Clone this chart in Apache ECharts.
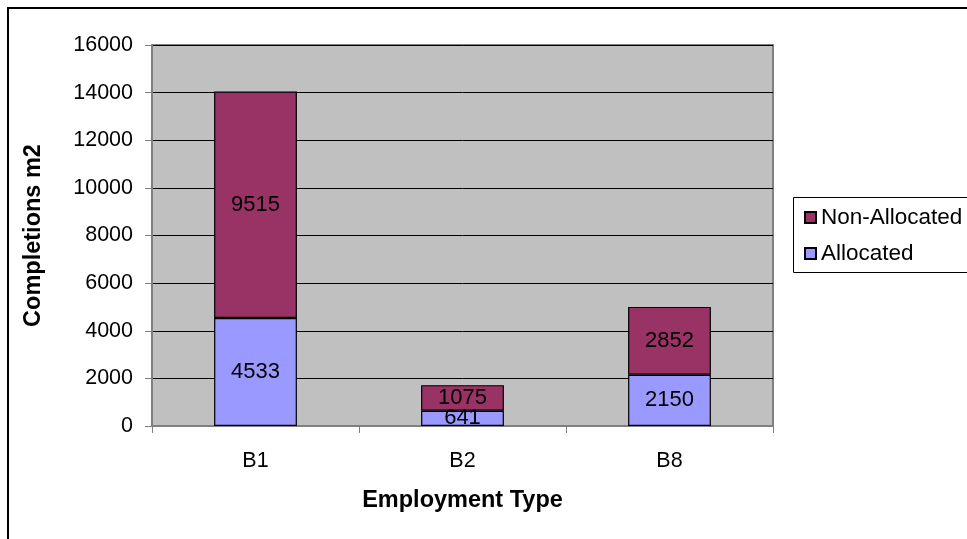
<!DOCTYPE html>
<html><head><meta charset="utf-8">
<script src="https://cdn.jsdelivr.net/npm/echarts@6/dist/echarts.min.js"></script>
<style>html,body{margin:0;padding:0;background:#fff}#c{width:967px;height:539px}</style>
</head><body><div id="c"></div>
<script>
var categories = ['B1', 'B2', 'B8'];
var allocated = [4533, 641, 2150];
var nonAllocated = [9515, 1075, 2852];
var yTicks = [0, 2000, 4000, 6000, 8000, 10000, 12000, 14000, 16000];

var FONT = '"Liberation Sans", Arial, sans-serif';
var chart = echarts.init(document.getElementById('c'), null, {renderer: 'canvas'});
chart.setOption({
  animation: false,
  textStyle: {fontFamily: FONT},
  graphic: [
    {type: 'rect', shape: {x: 8, y: 8, width: 1100, height: 700}, style: {fill: 'none', stroke: '#000', lineWidth: 2}, z: 100},
    {type: 'rect', shape: {x: 793.5, y: 197.5, width: 300, height: 75}, style: {fill: '#fff', stroke: '#000', lineWidth: 1}, z: 0}
  ],
  grid: {left: 152, top: 45, right: 194, bottom: 113, show: true, backgroundColor: '#C0C0C0', borderColor: '#808080', borderWidth: 2},
  legend: {
    data: ['Non-Allocated', 'Allocated'],
    orient: 'vertical', left: 799, top: 201, itemGap: 13,
    itemWidth: 11, itemHeight: 11, icon: 'rect',
    textStyle: {fontSize: 22.5, color: '#000', fontFamily: FONT}
  },
  xAxis: {
    type: 'category', data: categories,
    axisLine: {lineStyle: {color: '#808080', width: 1}},
    axisTick: {show: true, alignWithLabel: false, length: 7, lineStyle: {color: '#808080'}},
    axisLabel: {fontSize: 21.5, color: '#000', margin: 24},
    name: 'Employment Type', nameLocation: 'middle', nameGap: 63,
    nameTextStyle: {fontSize: 23.5, fontWeight: 'bold', color: '#000'}
  },
  yAxis: {
    type: 'value', min: 0, max: 16000, interval: 2000,
    axisLine: {show: true, lineStyle: {color: '#808080', width: 1}},
    axisTick: {show: true, length: 7, lineStyle: {color: '#808080'}},
    axisLabel: {fontSize: 21.5, color: '#000', margin: 19, formatter: function (v) { return String(v); }},
    splitLine: {lineStyle: {color: '#000', width: 1}},
    name: 'Completions m2', nameLocation: 'middle', nameGap: 106, nameRotate: 90,
    nameTextStyle: {fontSize: 23.5, fontWeight: 'bold', color: '#000'}
  },
  series: [
    {name: 'Allocated', type: 'bar', stack: 't', data: allocated, barWidth: '40%',
     itemStyle: {color: '#9999FF', borderColor: '#000', borderWidth: 1.2},
     label: {show: true, position: 'inside', fontSize: 22, color: '#000'}},
    {name: 'Non-Allocated', type: 'bar', stack: 't', data: nonAllocated, barWidth: '40%',
     itemStyle: {color: '#993366', borderColor: '#000', borderWidth: 1.2},
     label: {show: true, position: 'inside', fontSize: 22, color: '#000'}}
  ]
});
</script></body></html>
